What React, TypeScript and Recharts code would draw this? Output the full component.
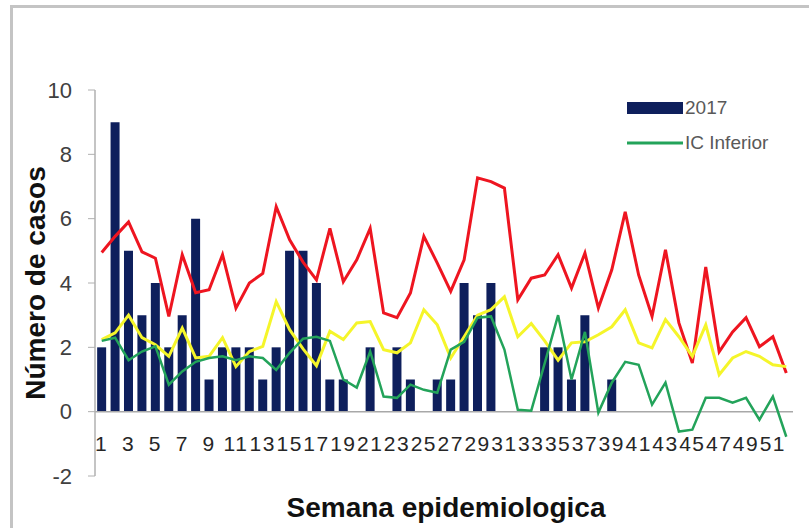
import {
  ComposedChart,
  Bar,
  Line,
  XAxis,
  YAxis,
  ReferenceLine,
  Legend,
} from 'recharts';

const semanas = [
  '1', '2', '3', '4', '5', '6', '7', '8', '9', '10', '11', '12', '13',
  '14', '15', '16', '17', '18', '19', '20', '21', '22', '23', '24', '25', '26',
  '27', '28', '29', '30', '31', '32', '33', '34', '35', '36', '37', '38', '39',
  '40', '41', '42', '43', '44', '45', '46', '47', '48', '49', '50', '51', '52',
];

const casos2017 = [
  2, 9, 5, 3, 4, 2, 3, 6, 1, 2, 2, 2, 1, 2, 5, 5, 4, 1, 1, 0, 2, 0, 2, 1, 0, 1,
  1, 4, 3, 4, 0, 0, 0, 2, 2, 1, 3, 0, 1, 0, 0, 0, 0, 0, 0, 0, 0, 0, 0, 0, 0, 0,
];

const icSuperior = [
  4.95, 5.45, 5.9, 4.97, 4.77, 2.96, 4.88, 3.7, 3.79, 4.88, 3.22, 4.0, 4.3,
  6.37, 5.34, 4.65, 4.1, 5.7, 4.04, 4.72, 5.7, 3.07, 2.92, 3.69, 5.45, 4.62,
  3.74, 4.72, 7.27, 7.15, 6.95, 3.48, 4.15, 4.25, 4.88, 3.84, 4.93, 3.22, 4.41,
  6.21, 4.25, 2.96, 5.03, 2.76, 1.51, 4.5, 1.86, 2.48, 2.92, 2.02, 2.33, 1.2,
];

const promedio = [
  2.24, 2.45, 3.0, 2.3, 2.08, 1.72, 2.6, 1.67, 1.72, 2.3, 1.4, 1.87, 2.03,
  3.42, 2.55, 1.95, 1.43, 2.5, 2.24, 2.76, 2.8, 1.93, 1.83, 2.14, 3.17, 2.7,
  1.67, 2.33, 3.0, 3.17, 3.57, 2.33, 2.74, 2.2, 1.6, 2.14, 2.17, 2.39, 2.64,
  3.17, 2.14, 1.98, 2.86, 2.33, 1.72, 2.7, 1.15, 1.67, 1.87, 1.72, 1.46, 1.4,
];

const icInferior = [
  2.2, 2.3, 1.6, 1.87, 2.03, 0.84, 1.25, 1.55, 1.67, 1.72, 1.6, 1.72, 1.67,
  1.3, 1.83, 2.27, 2.33, 2.2, 1.0, 0.75, 1.87, 0.47, 0.43, 0.84, 0.68, 0.59,
  1.93, 2.17, 2.92, 2.96, 1.93, 0.06, 0.03, 1.5, 3.0, 1.0, 2.48, -0.03, 0.9,
  1.55, 1.46, 0.22, 0.9, -0.62, -0.56, 0.43, 0.43, 0.28, 0.43, -0.25, 0.47, -0.78,
];

const yTicks = [-2, 0, 2, 4, 6, 8, 10];
const leyenda = ['2017', 'IC Inferior'];

const data = semanas.map((semana, i) => ({
  semana,
  casos: casos2017[i],
  superior: icSuperior[i],
  promedio: promedio[i],
  inferior: icInferior[i],
}));

const font = '"Liberation Sans", Arial, sans-serif';

const XTick = ({ x, y, payload }: any) => (
  <text
    x={x}
    y={y - 25}
    textAnchor="middle"
    fontSize={21}
    letterSpacing={1.5}
    fill="#262626"
    fontFamily={font}
  >
    {payload.value}
  </text>
);

const YTitle = ({ viewBox }: any) => {
  const cx = viewBox.x + 45;
  const cy = viewBox.y + viewBox.height / 2;
  return (
    <text
      x={cx}
      y={cy}
      transform={`rotate(-90, ${cx}, ${cy})`}
      textAnchor="middle"
      fontSize={28}
      fontWeight="bold"
      fill="#111"
      fontFamily={font}
    >
      Número de casos
    </text>
  );
};

const XTitle = ({ viewBox }: any) => (
  <text
    x={viewBox.x + viewBox.width / 2 + 2}
    y={viewBox.y + 41}
    textAnchor="middle"
    fontSize={28}
    fontWeight="bold"
    fill="#111"
    fontFamily={font}
  >
    Semana epidemiologica
  </text>
);

const LegendBox = ({ payload }: any) => (
  <div style={{ fontFamily: font }}>
    {(payload || [])
      .filter((p: any) => leyenda.includes(p.value))
      .map((p: any) => (
        <div key={p.value} style={{ display: 'flex', alignItems: 'center', height: 35 }}>
          <svg width={58} height={14}>
            {p.type === 'rect' ? (
              <rect x={0} y={1} width={56} height={12} fill={p.color} />
            ) : (
              <line x1={0} x2={56} y1={7} y2={7} stroke={p.color} strokeWidth={3} />
            )}
          </svg>
          <span style={{ fontSize: 19, color: '#595959' }}>{p.value}</span>
        </div>
      ))}
  </div>
);

export default function App() {
  return (
    <div
      style={{
        position: 'absolute',
        left: 0,
        top: 0,
        width: 809,
        height: 528,
        background: '#fff',
        overflow: 'hidden',
      }}
    >
      <div
        style={{
          position: 'absolute',
          left: 10,
          top: 5,
          width: 820,
          height: 540,
          borderLeft: '3px solid #C4C4C4',
          borderTop: '3px solid #C4C4C4',
        }}
      />
      <div style={{ position: 'absolute', left: 0, top: 0 }}>
        <ComposedChart
          width={809}
          height={528}
          data={data}
          margin={{ top: 90, right: 16, left: 0, bottom: 22 }}
          barCategoryGap="16%"
        >
          <XAxis
            dataKey="semana"
            interval={1}
            axisLine={false}
            tickLine={false}
            tickSize={0}
            tickMargin={0}
            height={30}
            tick={<XTick />}
            label={<XTitle />}
          />
          <YAxis
            domain={[-2, 10]}
            ticks={yTicks}
            width={95}
            tickSize={7}
            tickMargin={16}
            axisLine={{ stroke: '#B0B0B0', strokeWidth: 1.5 }}
            tickLine={{ stroke: '#B0B0B0' }}
            tick={{ fontSize: 22, fill: '#404040', fontFamily: font }}
            label={<YTitle />}
          />
          <ReferenceLine y={0} stroke="#A8A8A8" strokeWidth={1.5} />
          <Bar dataKey="casos" name="2017" fill="#0E1F5C" isAnimationActive={false} />
          <Line
            type="linear"
            dataKey="superior"
            name="IC Superior"
            stroke="#EE1520"
            strokeWidth={3}
            dot={false}
            legendType="none"
            isAnimationActive={false}
          />
          <Line
            type="linear"
            dataKey="promedio"
            name="Promedio"
            stroke="#F5F52A"
            strokeWidth={3}
            dot={false}
            legendType="none"
            isAnimationActive={false}
          />
          <Line
            type="linear"
            dataKey="inferior"
            name="IC Inferior"
            stroke="#23A35A"
            strokeWidth={2.5}
            dot={false}
            isAnimationActive={false}
          />
          <Legend
            layout="vertical"
            align="center"
            verticalAlign="middle"
            content={<LegendBox />}
            wrapperStyle={{ left: 627, top: 90, width: 180 }}
          />
        </ComposedChart>
      </div>
    </div>
  );
}
